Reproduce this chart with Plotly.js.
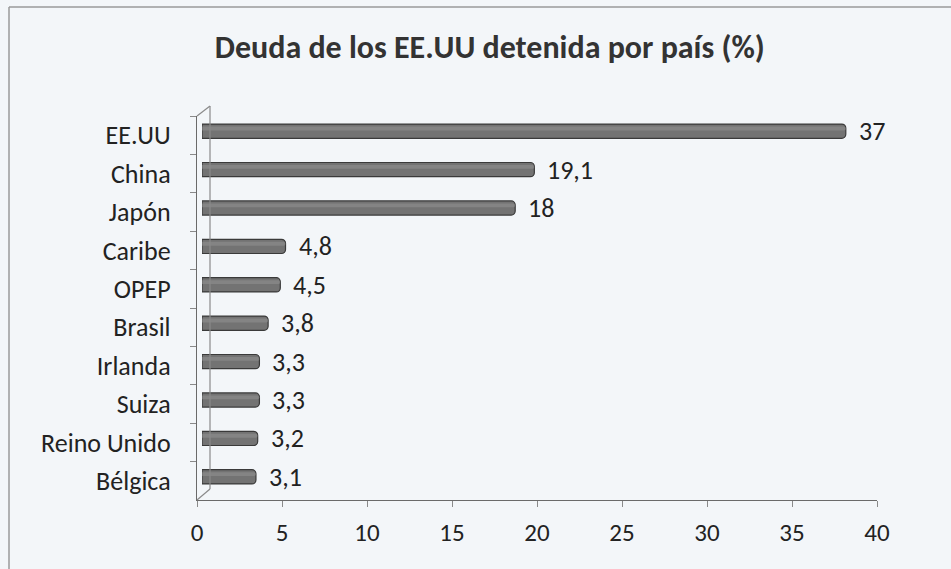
<!DOCTYPE html>
<html>
<head>
<meta charset="utf-8">
<script src="https://cdn.plot.ly/plotly-3.0.1.min.js"></script>
<style>html,body{margin:0;padding:0;background:#f3f6f9;}#chart{width:951px;height:569px;}</style>
</head>
<body>
<div id="chart"></div>
<script>
const countries = ["EE.UU", "China", "Japón", "Caribe", "OPEP", "Brasil", "Irlanda", "Suiza", "Reino Unido", "Bélgica"];
const shares = [37, 19.1, 18, 4.8, 4.5, 3.8, 3.3, 3.3, 3.2, 3.1];
const xTicks = [0, 5, 10, 15, 20, 25, 30, 35, 40];
const chartTitle = "Deuda de los EE.UU detenida por país (%)";

const W = 951, H = 569, ML = 197, MR = 40, MT = 108, MB = 69;
const PW = W - ML - MR, PH = H - MT - MB;
const px = x => (x - ML) / PW;
const py = y => (H - MB - y) / PH;

const FONT = "Carlito, Lato, 'Open Sans', sans-serif";
const labels = shares.map(v => String(v).replace('.', ','));

// invisible carrier so the front (visible) axes get drawn
const carrier = {
  type: 'scatter', mode: 'none', x: shares, y: countries,
  xaxis: 'x', yaxis: 'y', hoverinfo: 'skip', showlegend: false
};
const bars = {
  type: 'bar', orientation: 'h',
  x: shares, y: countries,
  xaxis: 'x2', yaxis: 'y2',
  width: 0.37,
  marker: { color: '#737373', line: { color: '#3a3a3a', width: 1.2 }, cornerradius: 4 },
  hoverinfo: 'x+y'
};
const shine = {
  type: 'bar', orientation: 'h',
  x: shares, y: countries,
  xaxis: 'x2', yaxis: 'y2',
  width: 0.1, offset: -0.12,
  marker: { color: 'rgba(150,150,150,0.5)', line: { width: 0 }, cornerradius: 2 },
  hoverinfo: 'skip'
};

const annotations = shares.map((v, i) => ({
  x: v, y: countries[i], xref: 'x2', yref: 'y2',
  text: labels[i], showarrow: false, xanchor: 'left', xshift: 11,
  font: { family: FONT, size: 26, color: '#222' }
}));

const lineStyle = { color: '#8a8a8a', width: 1.2 };
const shapes = [
  { type: 'line', xref: 'paper', yref: 'paper', x0: px(210), x1: px(210), y0: py(106), y1: py(489), line: lineStyle },
  { type: 'line', xref: 'paper', yref: 'paper', x0: px(197), x1: px(210), y0: py(116), y1: py(106), line: lineStyle },
  { type: 'line', xref: 'paper', yref: 'paper', x0: px(197), x1: px(210), y0: py(500), y1: py(489), line: lineStyle },
  { type: 'line', xref: 'paper', yref: 'paper', x0: px(9), x1: px(9), y0: py(7), y1: py(569), line: { color: '#9a9a9a', width: 1.5 } },
  { type: 'line', xref: 'paper', yref: 'paper', x0: px(9), x1: px(951), y0: py(7), y1: py(7), line: { color: '#9a9a9a', width: 1.5 } }
];

const layout = {
  width: W, height: H,
  margin: { l: ML, r: MR, t: MT, b: MB },
  paper_bgcolor: '#f3f6f9', plot_bgcolor: 'rgba(0,0,0,0)',
  showlegend: false, barmode: 'overlay',
  title: { text: '<b>' + chartTitle + '</b>', x: 0.515, xanchor: 'center', y: 1 - 47 / H, yanchor: 'middle',
           font: { family: FONT, size: 32, color: '#333' } },
  xaxis: {
    domain: [0, 680 / PW], range: [0, 40], tickvals: xTicks,
    showgrid: false, zeroline: false, showline: true, linecolor: '#6a6a6a', linewidth: 1.2,
    ticks: 'outside', ticklen: 6, tickcolor: '#8a8a8a',
    tickfont: { family: FONT, size: 25, color: '#222' }, ticklabelstandoff: 4,
    anchor: 'y', fixedrange: true, automargin: false
  },
  xaxis2: {
    domain: [5 / PW, 701 / PW], range: [0, 40], anchor: 'y2',
    visible: false, fixedrange: true
  },
  yaxis: {
    domain: [0, 384 / PH], type: 'category', categoryorder: 'array', categoryarray: countries,
    autorange: 'reversed', tickson: 'boundaries',
    showgrid: false, zeroline: false, showline: true, linecolor: '#6a6a6a', linewidth: 1.2,
    ticks: 'outside', ticklen: 6, tickcolor: '#8a8a8a',
    tickfont: { family: FONT, size: 26, color: '#222' }, ticklabelstandoff: 20,
    anchor: 'x', fixedrange: true, automargin: false
  },
  yaxis2: {
    domain: [4 / PH, 388 / PH], type: 'category', categoryorder: 'array', categoryarray: countries,
    autorange: 'reversed', anchor: 'x2', visible: false, fixedrange: true
  },
  annotations: annotations,
  shapes: shapes
};

Plotly.newPlot('chart', [carrier, bars, shine], layout, { displayModeBar: false, staticPlot: true });
</script>
</body>
</html>
